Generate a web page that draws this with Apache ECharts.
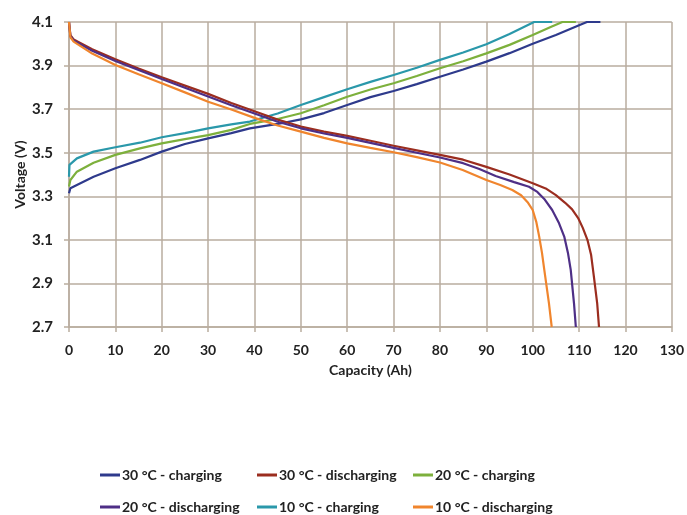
<!DOCTYPE html>
<html>
<head>
<meta charset="utf-8">
<script src="https://cdn.jsdelivr.net/npm/echarts@6/dist/echarts.min.js"></script>
<style>
html,body{margin:0;padding:0;background:#fff;}
#chart{width:687px;height:515px;}
</style>
</head>
<body>
<div id="chart"></div>
<script>
// Tick labels
const xTicks = [0,10,20,30,40,50,60,70,80,90,100,110,120,130];
const yTicks = [2.7,2.9,3.1,3.3,3.5,3.7,3.9,4.1];

// Series names
const seriesNames = ["30 °C - charging","30 °C - discharging","20 °C - charging","20 °C - discharging","10 °C - charging","10 °C - discharging"];

// 30 °C - charging
const c30x = [0,0.3,1.7,5.3,10,15.3,20,25,30,35,39,45,50,55,60,65,70,75,80,85,90,95,100,105,110,111.7,114.6];
const c30y = [3.314,3.337,3.352,3.39,3.429,3.467,3.505,3.54,3.566,3.59,3.612,3.632,3.653,3.682,3.719,3.755,3.783,3.815,3.849,3.882,3.918,3.957,4.0,4.04,4.085,4.1,4.1];

// 30 °C - discharging
const d30x = [0,0.3,1,5,10,15,20,25,30,35,40,45,50,55,60,65,70,75,80,85,90,95,100,102.8,105,107,108.5,109.8,110.8,111.8,112.6,113.2,113.9,114.3];
const d30y = [4.1,4.04,4.02,3.975,3.929,3.887,3.846,3.808,3.77,3.728,3.69,3.652,3.62,3.597,3.577,3.555,3.532,3.511,3.49,3.468,3.435,3.40,3.36,3.336,3.305,3.27,3.24,3.2,3.155,3.1,3.03,2.93,2.81,2.7];

// 20 °C - charging
const c20x = [0,0.3,1.7,5.3,10,15.3,20,25,30,35,39,45,50,55,60,65,70,75,80,85,90,95,100,104,106.4,109.3];
const c20y = [3.345,3.375,3.413,3.454,3.49,3.52,3.543,3.562,3.581,3.605,3.632,3.655,3.681,3.718,3.757,3.79,3.819,3.852,3.888,3.92,3.956,3.995,4.04,4.078,4.1,4.1];

// 20 °C - discharging
const d20x = [0,0.3,1,5,10,15,20,25,30,35,40,45,50,55,60,65,70,75,80,85,88.5,92,96,99.2,101,102.6,104.2,105.6,106.8,107.6,108.2,108.9,109.3];
const d20y = [4.1,4.035,4.015,3.968,3.921,3.88,3.838,3.798,3.758,3.718,3.68,3.642,3.612,3.588,3.568,3.545,3.522,3.50,3.478,3.452,3.425,3.393,3.365,3.344,3.32,3.285,3.237,3.18,3.115,3.04,2.962,2.81,2.7];

// 10 °C - charging
const c10x = [0,0.1,1.7,5.3,10,15.3,20,25,30,35,39,45,50,55,60,65,70,75,80,85,90,95,100.3,104.2];
const c10y = [3.39,3.444,3.474,3.505,3.525,3.546,3.571,3.59,3.612,3.63,3.643,3.68,3.719,3.755,3.791,3.825,3.857,3.89,3.926,3.96,3.998,4.045,4.1,4.1];

// 10 °C - discharging
const d10x = [0,0.3,1,5,10,15,20,25,30,35,40,45,50,55,60,65,70,75,80,84.9,90,93,95.6,97.5,99,100,100.8,101.4,102,102.5,103.5,104.1];
const d10y = [4.1,4.03,4.01,3.955,3.903,3.86,3.819,3.777,3.734,3.698,3.66,3.625,3.597,3.568,3.543,3.522,3.502,3.48,3.455,3.421,3.375,3.352,3.329,3.305,3.27,3.237,3.18,3.115,3.04,2.962,2.81,2.7];

const colors = ["#2E3A8C","#9B2D1F","#7DB03C","#4E2F86","#2A98AA","#F0852D"];

function pairs(xs, ys){ return xs.map((x,i)=>[x, ys[i]]); }
const allData = [pairs(c30x,c30y), pairs(d30x,d30y), pairs(c20x,c20y), pairs(d20x,d20y), pairs(c10x,c10y), pairs(d10x,d10y)];

const FONT = "Lato";
const gridColor = "#b9ad9f";

const chart = echarts.init(document.getElementById('chart'), null, {renderer:'canvas'});

function makeLegend(id, left, names){
  return {
    id: id,
    orient: 'vertical',
    left: left, top: 468, height: 47,
    padding: 0,
    icon: 'rect',
    itemWidth: 20,
    itemHeight: 3,
    itemGap: 18,
    textStyle: {fontFamily: FONT, fontWeight: 'bold', fontSize: 14, lineHeight: 14, color: '#222', padding: [0,0,0,-3]},
    selectedMode: false,
    data: names
  };
}

chart.setOption({
  animation: false,
  color: colors,
  grid: {left: 69, right: 14, top: 22, bottom: 188, containLabel: false},
  legend: [
    makeLegend('lg1', 100, [seriesNames[0], seriesNames[3]]),
    makeLegend('lg2', 257, [seriesNames[1], seriesNames[4]]),
    makeLegend('lg3', 413, [seriesNames[2], seriesNames[5]])
  ],
  xAxis: {
    type: 'value',
    min: xTicks[0], max: xTicks[xTicks.length-1], interval: 10,
    name: 'Capacity (Ah)', nameLocation: 'middle', nameGap: 36, nameMoveOverlap: false,
    nameTextStyle: {fontFamily: FONT, fontWeight: 'bold', fontSize: 14, color: '#222'},
    axisLine: {show: true, lineStyle: {color: gridColor, width: 1.5}},
    axisTick: {show: true, length: 5, lineStyle: {color: gridColor, width: 1.5}},
    axisLabel: {fontFamily: FONT, fontWeight: 'bold', fontSize: 14, color: '#222', margin: 16},
    splitLine: {show: true, lineStyle: {color: gridColor, width: 1.5}}
  },
  yAxis: {
    type: 'value',
    min: yTicks[0], max: yTicks[yTicks.length-1], interval: 0.2,
    name: 'Voltage (V)', nameLocation: 'middle', nameGap: 42, nameRotate: 90, nameMoveOverlap: false,
    nameTextStyle: {fontFamily: FONT, fontWeight: 'bold', fontSize: 14, color: '#222'},
    axisLine: {show: true, lineStyle: {color: gridColor, width: 1.5}},
    axisTick: {show: true, length: 5, lineStyle: {color: gridColor, width: 1.5}},
    axisLabel: {fontFamily: FONT, fontWeight: 'bold', fontSize: 15, color: '#222', margin: 16,
      formatter: v => v.toFixed(1)},
    splitLine: {show: true, lineStyle: {color: gridColor, width: 1.5}}
  },
  series: seriesNames.map((n,i)=>({
    name: n, type: 'line', data: allData[i], showSymbol: false, smooth: false,
    lineStyle: {width: 2.2, color: colors[i]}, itemStyle: {color: colors[i]}, z: 2 + (i%2)
  }))
});
</script>
</body>
</html>
